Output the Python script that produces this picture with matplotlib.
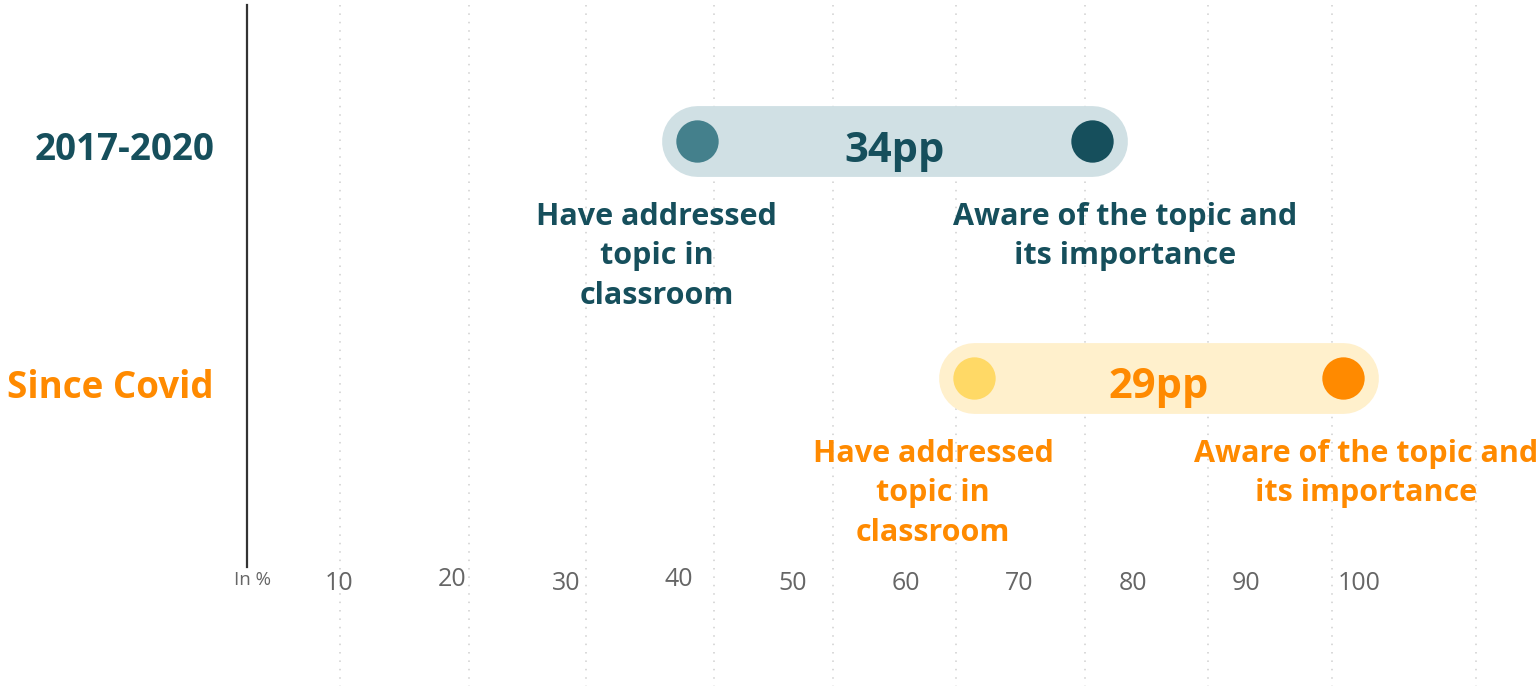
import matplotlib.pyplot as plt

plt.rcParams['font.family'] = ['Open Sans', 'DejaVu Sans']

# Data
periods = ['2017-2020', 'Since Covid']
addressed = [41.6, 66.0]   # "Have addressed topic in classroom"
aware = [76.4, 98.5]       # "Aware of the topic and its importance"
gap_labels = ['34pp', '29pp']
tick_values = [10, 20, 30, 40, 50, 60, 70, 80, 90, 100]
grid_values = [10.1, 21.5, 31.8, 43.1, 53.6, 64.4, 75.8, 86.6, 97.6, 110.3]

# Styles
text_col = ['#164f5c', '#ff8a00']
left_col = ['#44808c', '#ffd966']
right_col = ['#164f5c', '#ff8a00']
pill_col = ['#d0e0e4', '#fff0cc']
right_dx = [24, 17]

W, H = 1537, 686
fig = plt.figure(figsize=(W / 100, H / 100), dpi=100)
ax = fig.add_axes([0, 0, 1, 1])
ax.axis('off')

# pixel scale: tick "10" at 339 px, "100" at 1360 px
px_per_unit = 11.34
x0 = 225.6
ax.set_xlim(-x0 / px_per_unit, (W - x0) / px_per_unit)
# rows at 141 px and 378 px from top
row_px = 237
ax.set_ylim((H - 141) / row_px, -141 / row_px)


def py(p):
    return (p - 141) / row_px


def px(p):
    return (p - x0) / px_per_unit


# dotted grid
for g in grid_values:
    ax.plot([g, g], [py(5), py(H)], color='#cfcfcf', lw=1.1,
            linestyle=(0, (1, 4.5)), zorder=0)

# axis line
ax.plot([px(247), px(247)], [py(5), py(567)], color='#333333', lw=1.6, zorder=1)

shift = 5 / row_px  # labels sit a little below the dot centres
for i, name in enumerate(periods):
    y = i
    ax.plot([addressed[i], aware[i]], [y, y], color=pill_col[i], lw=51,
            solid_capstyle='round', zorder=2)
    ax.scatter([addressed[i]], [y], s=930, color=left_col[i], zorder=3, lw=0)
    ax.scatter([aware[i]], [y], s=930, color=right_col[i], zorder=3, lw=0)
    ax.text((addressed[i] + aware[i]) / 2, y + shift, gap_labels[i], ha='center',
            va='center_baseline', fontsize=30, fontweight='bold', color=text_col[i], zorder=4)
    ax.text(px(214), y + shift, name, ha='right', va='center_baseline', fontsize=26.5,
            fontweight='bold', color=text_col[i])
    ax.annotate('Have addressed\ntopic in\nclassroom', (addressed[i], y),
                xytext=(-29.5, -44), textcoords='offset points', ha='center', va='top',
                fontsize=22, fontweight='bold', color=text_col[i], linespacing=1.4)
    ax.annotate('Aware of the topic and\nits importance', (aware[i], y),
                xytext=(right_dx[i], -44), textcoords='offset points', ha='center', va='top',
                fontsize=22, fontweight='bold', color=text_col[i], linespacing=1.4)

# tick labels (slightly staggered as in the source)
for t in tick_values:
    yy = py(579) if t in (20, 40) else py(583)
    ax.text(t, yy, str(t), ha='center', va='center', fontsize=18, color='#666666')
ax.text(px(252), py(580), 'In %', ha='center', va='center', fontsize=13.5, color='#666666')

fig.savefig('out.png', dpi=100)
